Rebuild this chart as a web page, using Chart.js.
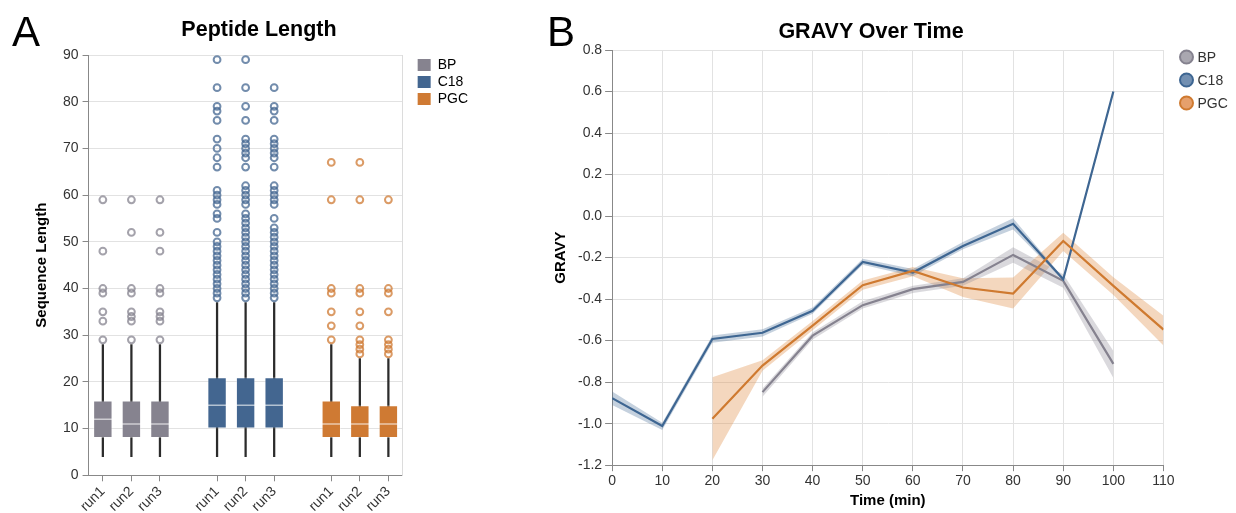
<!DOCTYPE html>
<html>
<head>
<meta charset="utf-8">
<script src="https://cdn.jsdelivr.net/npm/chart.js@4.4.1/dist/chart.umd.min.js"></script>
<style>
  body { margin: 0; background: #fff; font-family: "Liberation Sans", Arial, sans-serif; }
  #wrap { position: relative; width: 1236px; height: 513px; overflow: hidden; }
  canvas { position: absolute; top: 0; }
  .letter { position: absolute; font-size: 42px; line-height: 42px; color: #000; }
  .title { position: absolute; font-size: 21.5px; font-weight: bold; line-height: 24px; color: #000;
           transform: translateX(-50%); white-space: nowrap; }
</style>
</head>
<body>
<div id="wrap">
  <canvas id="lengthChart" width="540" height="519" style="left:0"></canvas>
  <canvas id="gravyChart" width="696" height="513" style="left:540px"></canvas>
  <div class="letter" style="left:12px;top:11px">A</div>
  <div class="letter" style="left:547px;top:11px">B</div>
  <div class="title" style="left:259px;top:17px">Peptide Length</div>
  <div class="title" style="left:871px;top:19px">GRAVY Over Time</div>
</div>
<script>
// ---- panel A: peptide length box plots ----
const groups = ['BP', 'C18', 'PGC'];
const groupColors = ['#86838f', '#436690', '#cf7a33'];
const outlierColors = ['rgba(134,131,143,0.75)', 'rgba(67,102,144,0.75)', 'rgba(207,122,51,0.75)'];

// gap slots keep the groups apart
const boxCategories = ['BP run1', 'BP run2', 'BP run3', 'gap1',
                       'C18 run1', 'C18 run2', 'C18 run3', 'gap2',
                       'PGC run1', 'PGC run2', 'PGC run3'];
const whiskerLow  = [4, 4, 4, null, 4, 4, 4, null, 4, 4, 4];
const boxQ1       = [8, 8, 8, null, 10, 10, 10, null, 8, 8, 8];
const boxMedian   = [12, 11, 11, null, 15, 15, 15, null, 11, 11, 11];
const boxQ3       = [16, 16, 16, null, 21, 21, 21, null, 16, 15, 15];
const whiskerHigh = [28, 28, 28, null, 37, 37, 37, null, 28, 25, 25];

const bpRun1Out = [29, 33, 35, 39, 40, 48, 59];
const bpRun2Out = [29, 33, 34, 35, 39, 40, 52, 59];
const bpRun3Out = [29, 33, 34, 35, 39, 40, 48, 52, 59];
const c18Run1Out = [38, 39, 40, 41, 42, 43, 44, 45, 46, 47, 48, 49, 50, 52, 55, 56, 58, 59, 60, 61,
                    66, 68, 70, 72, 76, 78, 79, 83, 89];
const c18Run2Out = [38, 39, 40, 41, 42, 43, 44, 45, 46, 47, 48, 49, 50, 51, 52, 53, 54, 55, 56, 58, 59, 60, 61, 62,
                    66, 68, 69, 70, 71, 72, 76, 79, 83, 89];
const c18Run3Out = [38, 39, 40, 41, 42, 43, 44, 45, 46, 47, 48, 49, 50, 51, 52, 53, 55, 58, 59, 60, 61, 62,
                    66, 68, 69, 70, 71, 72, 76, 78, 79, 83];
const pgcRun1Out = [29, 32, 35, 39, 40, 59, 67];
const pgcRun2Out = [26, 27, 28, 29, 32, 35, 39, 40, 59, 67];
const pgcRun3Out = [26, 27, 28, 29, 35, 39, 40, 59];

const outlierSets = [
  [['BP run1', bpRun1Out], ['BP run2', bpRun2Out], ['BP run3', bpRun3Out]],
  [['C18 run1', c18Run1Out], ['C18 run2', c18Run2Out], ['C18 run3', c18Run3Out]],
  [['PGC run1', pgcRun1Out], ['PGC run2', pgcRun2Out], ['PGC run3', pgcRun3Out]]
];

// ---- panel B: GRAVY over time (mean with CI band) ----
const series = ['BP', 'C18', 'PGC'];
const lineColors = ['#85828f', '#3e6692', '#cf7a30'];
const bandColors = ['rgba(140,138,150,0.32)', 'rgba(62,102,146,0.3)', 'rgba(224,140,70,0.35)'];
const legendFills = ['#a9a7b0', '#7390b2', '#e6a06c'];

const bpTime = [30, 40, 50, 60, 70, 80, 90, 100];
const bpMean = [-0.848, -0.576, -0.429, -0.352, -0.317, -0.187, -0.312, -0.712];
const bpLow  = [-0.87, -0.595, -0.445, -0.37, -0.335, -0.225, -0.345, -0.78];
const bpHigh = [-0.83, -0.56, -0.41, -0.335, -0.30, -0.15, -0.28, -0.65];

const c18Time = [0, 10, 20, 30, 40, 50, 60, 70, 80, 90, 100];
const c18Mean = [-0.877, -1.011, -0.592, -0.562, -0.456, -0.221, -0.272, -0.144, -0.037, -0.304, 0.600];
const c18Low  = [-0.91, -1.03, -0.61, -0.58, -0.47, -0.235, -0.29, -0.16, -0.065, -0.31, 0.598];
const c18High = [-0.845, -0.995, -0.575, -0.545, -0.44, -0.205, -0.255, -0.125, -0.01, -0.298, 0.602];

const pgcTime = [20, 30, 40, 50, 60, 70, 80, 90, 100, 110];
const pgcMean = [-0.976, -0.72, -0.528, -0.333, -0.264, -0.344, -0.373, -0.12, -0.336, -0.547];
const pgcLow  = [-1.176, -0.745, -0.55, -0.355, -0.29, -0.39, -0.445, -0.168, -0.38, -0.624];
const pgcHigh = [-0.776, -0.695, -0.505, -0.31, -0.245, -0.30, -0.296, -0.08, -0.295, -0.48];

Chart.defaults.font.family = '"Liberation Sans", Arial, sans-serif';
Chart.defaults.color = '#333';

const groupOf = c => groups.findIndex(g => c.startsWith(g + ' '));
const slotColors = boxCategories.map(c => groupOf(c) < 0 ? 'rgba(0,0,0,0)' : groupColors[groupOf(c)]);

const outlierDatasets = outlierSets.map((sets, gi) => ({
  type: 'line',
  label: groups[gi] + ' outliers',
  data: sets.flatMap(([cat, vals]) => vals.map(v => ({ x: cat, y: v }))),
  showLine: false,
  pointStyle: 'circle',
  pointRadius: 3.4,
  pointBorderWidth: 2,
  pointBackgroundColor: 'rgba(0,0,0,0)',
  pointBorderColor: outlierColors[gi],
  yAxisID: 'y',
  order: 1
}));

new Chart(document.getElementById('lengthChart'), {
  type: 'bar',
  data: {
    labels: boxCategories,
    datasets: [
      {
        label: 'whisker',
        data: boxCategories.map((c, i) => whiskerLow[i] == null ? null : [whiskerLow[i], whiskerHigh[i]]),
        backgroundColor: '#2b2b2b',
        barThickness: 1.6,
        grouped: false,
        yAxisID: 'y',
        order: 4
      },
      {
        label: 'box',
        data: boxCategories.map((c, i) => boxQ1[i] == null ? null : [boxQ1[i], boxQ3[i]]),
        backgroundColor: slotColors,
        borderColor: 'rgba(255,255,255,0.35)',
        borderWidth: 1,
        borderSkipped: false,
        barPercentage: 0.68,
        categoryPercentage: 1,
        grouped: false,
        yAxisID: 'y',
        order: 3
      },
      {
        type: 'line',
        label: 'median',
        data: boxMedian,
        showLine: false,
        pointStyle: 'line',
        pointRadius: 9.7,
        pointBorderWidth: 1.5,
        pointBorderColor: 'rgba(255,255,255,0.6)',
        yAxisID: 'y',
        order: 2
      },
      ...outlierDatasets
    ]
  },
  options: {
    responsive: false,
    animation: false,
    layout: { padding: { top: 55, left: 33, right: 62, bottom: 2 } },
    plugins: {
      tooltip: { enabled: false },
      legend: {
        position: 'right',
        align: 'start',
        onClick: null,
        labels: {
          boxWidth: 13,
          boxHeight: 12,
          padding: 3,
          color: '#333',
          font: { size: 14 },
          generateLabels: () => groups.map((g, i) => ({
            text: g, fillStyle: groupColors[i], strokeStyle: groupColors[i],
            lineWidth: 0, hidden: false, index: i
          }))
        }
      }
    },
    scales: {
      x: {
        type: 'category',
        offset: true,
        grid: {
          display: true,
          drawOnChartArea: false,
          offset: false,
          tickLength: 6,
          tickColor: ctx => (ctx.tick && boxCategories[ctx.tick.value] || '').startsWith('gap') ? 'rgba(0,0,0,0)' : '#888'
        },
        border: { color: '#888' },
        ticks: {
          autoSkip: false,
          minRotation: 45,
          maxRotation: 45,
          padding: 2,
          color: '#333',
          font: { size: 14 },
          callback(v) {
            const l = this.getLabelForValue(v);
            return l.startsWith('gap') ? '' : l.split(' ')[1];
          }
        }
      },
      y: {
        min: 0,
        max: 90,
        ticks: { stepSize: 10, padding: 4, color: '#333', font: { size: 14 } },
        grid: { color: '#e2e2e2', tickColor: '#888', tickLength: 6 },
        border: { color: '#888' },
        title: {
          display: true, text: 'Sequence Length', color: '#000',
          font: { size: 15, weight: 'bold' }, padding: { top: 0, bottom: 8 }
        }
      },
      y2: {
        type: 'linear',
        position: 'right',
        min: 0,
        max: 90,
        ticks: { display: false },
        grid: { drawOnChartArea: false, drawTicks: false },
        border: { color: '#dcdcdc' },
        afterFit(scale) { scale.width = 12; }
      }
    }
  }
});

// ---- panel B chart ----
const pts = (times, vals) => times.map((t, i) => ({ x: t, y: vals[i] }));
const gravySets = [
  [bpTime, bpMean, bpLow, bpHigh],
  [c18Time, c18Mean, c18Low, c18High],
  [pgcTime, pgcMean, pgcLow, pgcHigh]
];

const bandDatasets = [];
gravySets.forEach(([t, m, lo, hi], i) => {
  bandDatasets.push({
    label: series[i] + ' low', data: pts(t, lo),
    borderColor: 'rgba(0,0,0,0)', borderWidth: 0, pointRadius: 0, fill: false, order: 5
  });
  bandDatasets.push({
    label: series[i] + ' high', data: pts(t, hi),
    borderColor: 'rgba(0,0,0,0)', borderWidth: 0, pointRadius: 0,
    fill: '-1', backgroundColor: bandColors[i], order: 5
  });
});
const meanDatasets = gravySets.map(([t, m], i) => ({
  label: series[i], data: pts(t, m),
  borderColor: lineColors[i], borderWidth: 2.2, pointRadius: 0, fill: false, tension: 0,
  order: 3 - i
}));

const gravyLegend = {
  id: 'gravyLegend',
  afterDraw(chart) {
    const { ctx, chartArea } = chart;
    ctx.save();
    ctx.font = '14px "Liberation Sans", Arial, sans-serif';
    ctx.textBaseline = 'middle';
    series.forEach((name, i) => {
      const cx = chartArea.right + 23;
      const cy = chartArea.top + 7 + i * 23;
      ctx.beginPath();
      ctx.arc(cx, cy, 6.5, 0, Math.PI * 2);
      ctx.fillStyle = legendFills[i];
      ctx.fill();
      ctx.lineWidth = 2;
      ctx.strokeStyle = lineColors[i];
      ctx.stroke();
      ctx.fillStyle = '#333';
      ctx.fillText(name, chartArea.right + 34, cy + 1);
    });
    ctx.restore();
  }
};

new Chart(document.getElementById('gravyChart'), {
  type: 'line',
  data: { datasets: [...bandDatasets, ...meanDatasets] },
  plugins: [gravyLegend],
  options: {
    responsive: false,
    animation: false,
    layout: { padding: { top: 50, left: 6, right: 72.5, bottom: 3 } },
    plugins: { legend: { display: false }, tooltip: { enabled: false } },
    scales: {
      x: {
        type: 'linear',
        min: 0,
        max: 110,
        ticks: { stepSize: 10, padding: 2, color: '#333', font: { size: 14 } },
        grid: { color: '#e2e2e2', tickColor: '#888', tickLength: 6 },
        border: { color: '#888' },
        title: {
          display: true, text: 'Time (min)', color: '#000',
          font: { size: 15, weight: 'bold' }, padding: { top: 0, bottom: 0 }
        }
      },
      y: {
        min: -1.2,
        max: 0.8,
        ticks: {
          stepSize: 0.2, padding: 3, color: '#333', font: { size: 14 },
          callback: v => Math.abs(v) < 1e-9 ? '0.0' : v.toFixed(1)
        },
        grid: { color: '#e2e2e2', tickColor: '#888', tickLength: 7 },
        border: { color: '#888' },
        title: {
          display: true, text: 'GRAVY', color: '#000',
          font: { size: 15, weight: 'bold' }, padding: { top: 6, bottom: 5 }
        }
      }
    }
  }
});
</script>
</body>
</html>
